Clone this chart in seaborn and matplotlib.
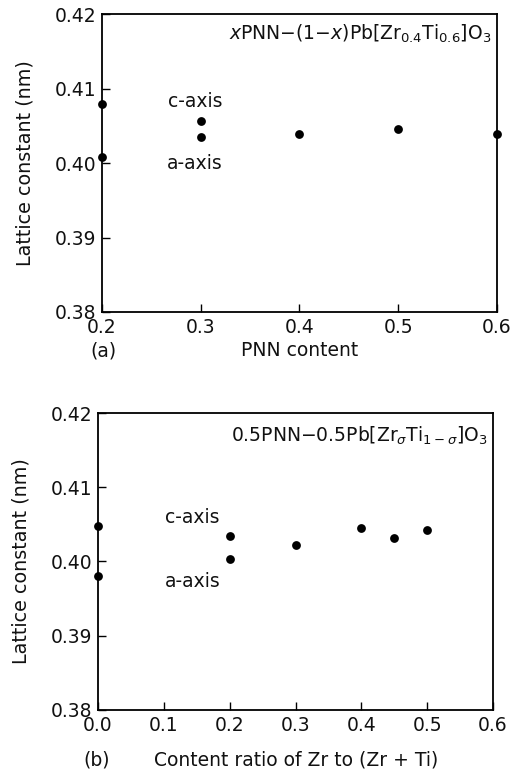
import matplotlib
matplotlib.use("Agg")
import matplotlib.pyplot as plt
import seaborn as sns
import pandas as pd

# Panel (a)
pnn_content = [0.2, 0.2, 0.3, 0.3, 0.4, 0.5, 0.6]
lattice_a = [0.4079, 0.4008, 0.4057, 0.4035, 0.4039, 0.4045, 0.4039]
# Panel (b)
zr_ratio = [0.0, 0.0, 0.2, 0.2, 0.3, 0.4, 0.45, 0.5]
lattice_b = [0.4048, 0.3980, 0.4034, 0.4003, 0.4022, 0.4045, 0.4032, 0.4043]

y_ticks = [0.38, 0.39, 0.40, 0.41, 0.42]
y_ticklabels = ["0.38", "0.39", "0.40", "0.41", "0.42"]
xa_ticks = [0.2, 0.3, 0.4, 0.5, 0.6]
xb_ticks = [0.0, 0.1, 0.2, 0.3, 0.4, 0.5, 0.6]

sns.set_style("ticks")
plt.rcParams["font.family"] = ["DejaVu Sans"]
plt.rcParams["mathtext.fontset"] = "dejavusans"
plt.rcParams["text.color"] = "#111111"
plt.rcParams["axes.labelcolor"] = "#111111"

FS = 13.5
fig = plt.figure(figsize=(5.19, 7.74), dpi=100)
ax1 = fig.add_axes([0.1965, 0.5969, 0.7611, 0.3850])
ax2 = fig.add_axes([0.1888, 0.0827, 0.7612, 0.3837])

dfa = pd.DataFrame({"x": pnn_content, "y": lattice_a})
dfb = pd.DataFrame({"x": zr_ratio, "y": lattice_b})

for ax, df, xt, xlim in [(ax1, dfa, xa_ticks, (0.2, 0.6)), (ax2, dfb, xb_ticks, (0.0, 0.6))]:
    sns.scatterplot(data=df, x="x", y="y", ax=ax, color="black", s=40,
                    edgecolor="black", linewidth=0, clip_on=False, zorder=5)
    ax.set_xlim(*xlim)
    ax.set_ylim(0.38, 0.42)
    ax.set_xticks(xt)
    ax.set_xticklabels([f"{v:.1f}" for v in xt])
    ax.set_yticks(y_ticks)
    ax.set_yticklabels(y_ticklabels)
    ax.tick_params(direction="in", length=6, width=1.0, labelsize=FS, colors="black",
                   labelcolor="#111111", pad=4)
    for sp in ax.spines.values():
        sp.set_visible(True)
        sp.set_linewidth(1.3)
        sp.set_color("black")
    ax.set_ylabel("Lattice constant (nm)", fontsize=13.8, labelpad=14.5)
    ax.set_xlabel("")

# Panel (a) texts
ax1.text(0.985, 0.97, r"$\it{x}$PNN$-$(1$-$$\it{x}$)Pb[Zr$_{0.4}$Ti$_{0.6}$]O$_3$",
         transform=ax1.transAxes, ha="right", va="top", fontsize=FS)
ax1.text(0.294, 0.4083, "c-axis", ha="center", va="center", fontsize=FS)
ax1.text(0.294, 0.4000, "a-axis", ha="center", va="center", fontsize=FS)
fig.text(103 / 519, 1 - 351 / 774, "(a)", ha="center", va="center", fontsize=FS)
fig.text(300 / 519, 1 - 351 / 774, "PNN content", ha="center", va="center", fontsize=FS)

# Panel (b) texts
ax2.text(0.985, 0.96, r"0.5PNN$-$0.5Pb[Zr$_{\sigma}$Ti$_{1-\sigma}$]O$_3$",
         transform=ax2.transAxes, ha="right", va="top", fontsize=FS)
ax2.text(0.143, 0.4059, "c-axis", ha="center", va="center", fontsize=FS)
ax2.text(0.144, 0.3973, "a-axis", ha="center", va="center", fontsize=FS)
fig.text(97 / 519, 1 - 760 / 774, "(b)", ha="center", va="center", fontsize=FS)
fig.text(296 / 519, 1 - 760 / 774, "Content ratio of Zr to (Zr + Ti)", ha="center", va="center", fontsize=FS)

fig.savefig("out.png", dpi=100)
